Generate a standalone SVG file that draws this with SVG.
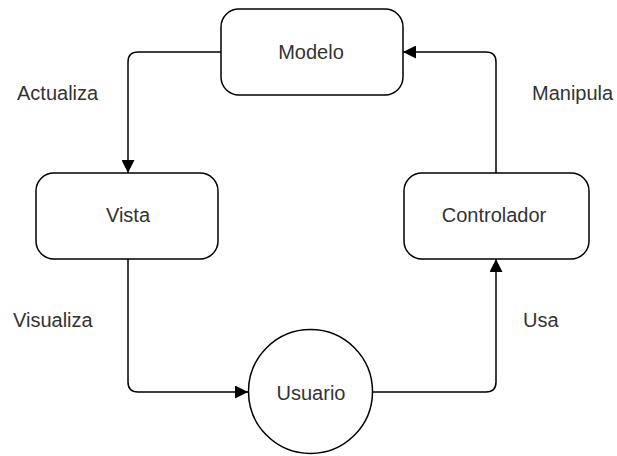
<svg xmlns="http://www.w3.org/2000/svg" width="617" height="456" viewBox="0 0 617 456">
<style>
.node{fill:#fff;stroke:#000;stroke-width:1.5}
.lbl{font-family:"Liberation Sans",Arial,sans-serif;font-size:20px;fill:#333}
.c{text-anchor:middle}
.edge{fill:none;stroke:#000;stroke-width:1.5}
</style>
<defs>
<marker id="arr" viewBox="0 0 13 13" refX="13" refY="6.5" markerWidth="13" markerHeight="13" markerUnits="userSpaceOnUse" orient="auto">
<path d="M0,0 L13,6.5 L0,13 z" fill="#000"/>
</marker>
</defs>
<rect width="617" height="456" fill="#fff"/>
<g id="connectors">
<path class="edge" d="M221,52 H138 Q128,52 128,62 V173" marker-end="url(#arr)"/>
<path class="edge" d="M128,259 V382 Q128,392 138,392 H248" marker-end="url(#arr)"/>
<path class="edge" d="M373,392 H486 Q496,392 496,382 V259" marker-end="url(#arr)"/>
<path class="edge" d="M496,173 V62 Q496,52 486,52 H403" marker-end="url(#arr)"/>
</g>
<g id="modelo">
<rect class="node" x="221" y="9" width="182" height="86" rx="18"/>
<text class="lbl c" x="311" y="59">Modelo</text>
</g>
<g id="vista">
<rect class="node" x="36" y="173" width="182" height="86" rx="18"/>
<text class="lbl c" x="128" y="222">Vista</text>
</g>
<g id="controlador">
<rect class="node" x="404" y="173" width="185" height="86" rx="18"/>
<text class="lbl c" x="494" y="222">Controlador</text>
</g>
<g id="usuario">
<circle class="node" cx="310.5" cy="391.5" r="62"/>
<text class="lbl c" x="311" y="400">Usuario</text>
</g>
<g id="labels">
<text class="lbl" x="17" y="100">Actualiza</text>
<text class="lbl" x="532" y="100">Manipula</text>
<text class="lbl" x="13" y="327">Visualiza</text>
<text class="lbl" x="523" y="327">Usa</text>
</g>
</svg>
